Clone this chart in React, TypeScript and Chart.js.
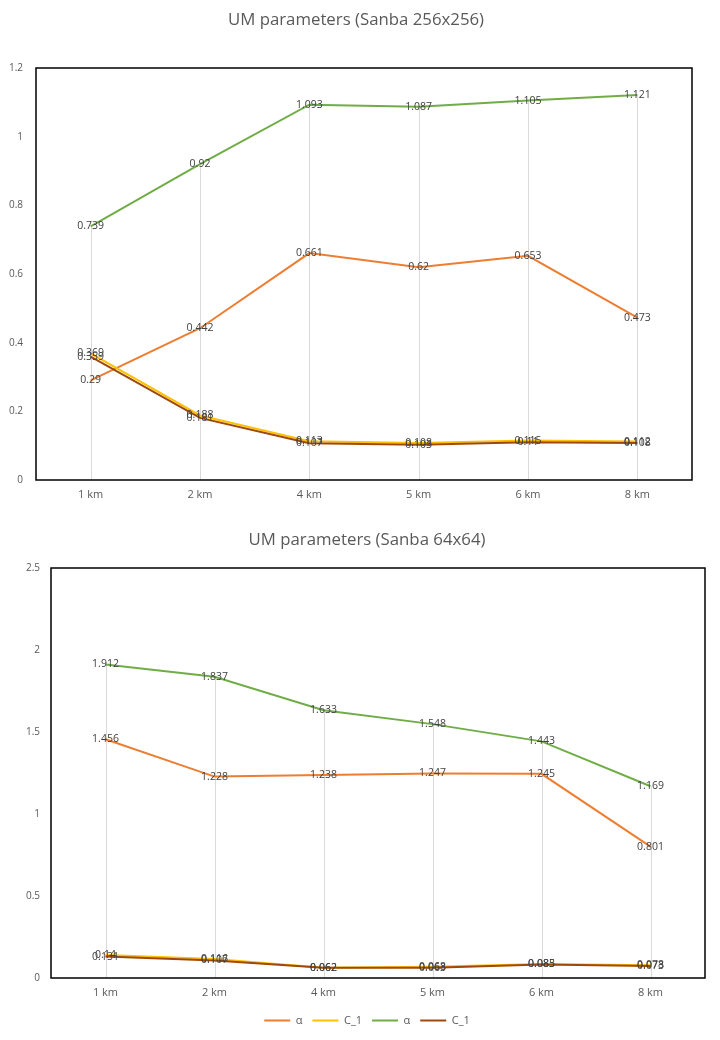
import React, { useEffect, useRef } from "react";
import { Chart, registerables } from "chart.js";

Chart.register(...registerables);

const categories = ["1 km", "2 km", "4 km", "5 km", "6 km", "8 km"];
const seriesLabels = ["α", "C_1", "α", "C_1"];
const seriesColors = ["#ED7D31", "#FFC000", "#70AD47", "#9E480E"];

const topAlphaOrange = [0.29, 0.442, 0.661, 0.62, 0.653, 0.473];
const topC1Yellow = [0.369, 0.188, 0.113, 0.108, 0.115, 0.112];
const topAlphaGreen = [0.739, 0.92, 1.093, 1.087, 1.105, 1.121];
const topC1Brown = [0.359, 0.181, 0.107, 0.103, 0.11, 0.108];
const topYTicks = [0, 0.2, 0.4, 0.6, 0.8, 1, 1.2];

const botAlphaOrange = [1.456, 1.228, 1.238, 1.247, 1.245, 0.801];
const botC1Yellow = [0.14, 0.116, 0.062, 0.068, 0.085, 0.078];
const botAlphaGreen = [1.912, 1.837, 1.633, 1.548, 1.443, 1.169];
const botC1Brown = [0.131, 0.107, 0.062, 0.063, 0.083, 0.073];
const botYTicks = [0, 0.5, 1, 1.5, 2, 2.5];

const topTitle = "UM parameters (Sanba 256x256)";
const botTitle = "UM parameters (Sanba 64x64)";

const FONT = "'Open Sans', 'Noto Sans', sans-serif";

const dropLines = {
  id: "dropLines",
  beforeDatasetsDraw(chart: any) {
    const { ctx, chartArea, scales } = chart;
    const n = chart.data.labels.length;
    ctx.save();
    ctx.strokeStyle = "#D9D9D9";
    ctx.lineWidth = 1;
    for (let i = 0; i < n; i++) {
      let mx = -Infinity;
      chart.data.datasets.forEach((ds: any) => {
        if (ds.data[i] > mx) mx = ds.data[i];
      });
      const x = Math.round(scales.x.getPixelForValue(i)) + 0.5;
      const y = scales.y.getPixelForValue(mx);
      ctx.beginPath();
      ctx.moveTo(x, y);
      ctx.lineTo(x, chartArea.bottom);
      ctx.stroke();
    }
    ctx.strokeStyle = "#000000";
    ctx.lineWidth = 1.5;
    ctx.strokeRect(
      chartArea.left,
      chartArea.top,
      chartArea.right - chartArea.left,
      chartArea.bottom - chartArea.top
    );
    ctx.restore();
  },
};

const dataLabels = {
  id: "dataLabels",
  afterDatasetsDraw(chart: any) {
    const { ctx } = chart;
    ctx.save();
    ctx.font = `10.5px ${FONT}`;
    ctx.fillStyle = "#404040";
    ctx.textAlign = "center";
    ctx.textBaseline = "middle";
    chart.data.datasets.forEach((ds: any, di: number) => {
      const meta = chart.getDatasetMeta(di);
      meta.data.forEach((pt: any, i: number) => {
        ctx.fillText(String(ds.data[i]), pt.x, pt.y);
      });
    });
    ctx.restore();
  },
};

type Spec = {
  title: string;
  series: number[][];
  yTicks: number[];
  padLeft: number;
  padRight: number;
  padBottom: number;
  yWidth: number;
  yPad: number;
  rightWidth: number;
  xHeight: number;
  titlePadTop: number;
  titlePadBottom: number;
  legend: boolean;
};

function buildConfig(s: Spec): any {
  const yMin = s.yTicks[0];
  const yMax = s.yTicks[s.yTicks.length - 1];
  return {
    type: "line",
    data: {
      labels: categories,
      datasets: s.series.map((d, i) => ({
        label: seriesLabels[i],
        data: d,
        borderColor: seriesColors[i],
        backgroundColor: seriesColors[i],
        borderWidth: 2,
        pointRadius: 0,
        pointHoverRadius: 0,
        tension: 0,
        fill: false,
        order: s.series.length - i,
      })),
    },
    options: {
      animation: false,
      responsive: false,
      events: [],
      layout: {
        padding: { left: s.padLeft, right: s.padRight, top: 0, bottom: s.padBottom },
      },
      plugins: {
        title: {
          display: true,
          text: s.title,
          color: "#595959",
          font: { family: FONT, size: 16.8, weight: "normal", lineHeight: 1.2 },
          padding: { top: s.titlePadTop, bottom: s.titlePadBottom },
        },
        legend: {
          display: s.legend,
          position: "bottom",
          labels: {
            boxWidth: 26,
            boxHeight: 2,
            padding: 10,
            color: "#595959",
            font: { family: FONT, size: 11 },
            sort: (a: any, b: any) => a.datasetIndex - b.datasetIndex,
            generateLabels: (chart: any) =>
              Chart.defaults.plugins.legend.labels
                .generateLabels(chart)
                .map((l: any) => ({ ...l, lineWidth: 0 })),
          },
        },
        tooltip: { enabled: false },
      },
      scales: {
        x: {
          type: "category",
          offset: true,
          grid: { display: false, drawTicks: false },
          border: { display: false },
          ticks: {
            color: "#595959",
            font: { family: FONT, size: 11 },
            padding: 8,
            maxRotation: 0,
          },
          afterFit: (sc: any) => {
            sc.height = s.xHeight;
          },
        },
        y: {
          position: "left",
          min: yMin,
          max: yMax,
          grid: { display: false, drawTicks: false },
          border: { display: false },
          afterBuildTicks: (sc: any) => {
            sc.ticks = s.yTicks.map((v) => ({ value: v }));
          },
          ticks: {
            color: "#595959",
            font: { family: FONT, size: 10 },
            padding: s.yPad,
            callback: (v: any) => String(v),
          },
          afterFit: (sc: any) => {
            sc.width = s.yWidth;
          },
        },
        yRight: {
          position: "right",
          display: true,
          min: yMin,
          max: yMax,
          grid: { display: false, drawTicks: false },
          border: { display: false },
          ticks: { display: false },
          afterFit: (sc: any) => {
            sc.width = s.rightWidth;
          },
        },
      },
    },
    plugins: [dropLines, dataLabels],
  };
}

const topSpec: Spec = {
  title: topTitle,
  series: [topAlphaOrange, topC1Yellow, topAlphaGreen, topC1Brown],
  yTicks: topYTicks,
  padLeft: 4,
  padRight: 12,
  padBottom: 0,
  yWidth: 32,
  yPad: 13,
  rightWidth: 16,
  xHeight: 32,
  titlePadTop: 9.92,
  titlePadBottom: 37.92,
  legend: false,
};

const botSpec: Spec = {
  title: botTitle,
  series: [botAlphaOrange, botC1Yellow, botAlphaGreen, botC1Brown],
  yTicks: botYTicks,
  padLeft: 20,
  padRight: 6,
  padBottom: 4,
  yWidth: 31,
  yPad: 11,
  rightWidth: 9,
  xHeight: 27,
  titlePadTop: 17.92,
  titlePadBottom: 17.92,
  legend: true,
};

function LineChart({ spec, width, height }: { spec: Spec; width: number; height: number }) {
  const ref = useRef<HTMLCanvasElement>(null);
  useEffect(() => {
    const chart = new Chart(ref.current as HTMLCanvasElement, buildConfig(spec));
    return () => chart.destroy();
  }, [spec]);
  return (
    <canvas
      ref={ref}
      width={width}
      height={height}
      style={{ display: "block", width, height }}
    />
  );
}

export default function App() {
  return (
    <div style={{ position: "absolute", left: 0, top: 0, width: 720, height: 1040, background: "#fff" }}>
      <LineChart spec={topSpec} width={720} height={512} />
      <LineChart spec={botSpec} width={720} height={528} />
    </div>
  );
}
